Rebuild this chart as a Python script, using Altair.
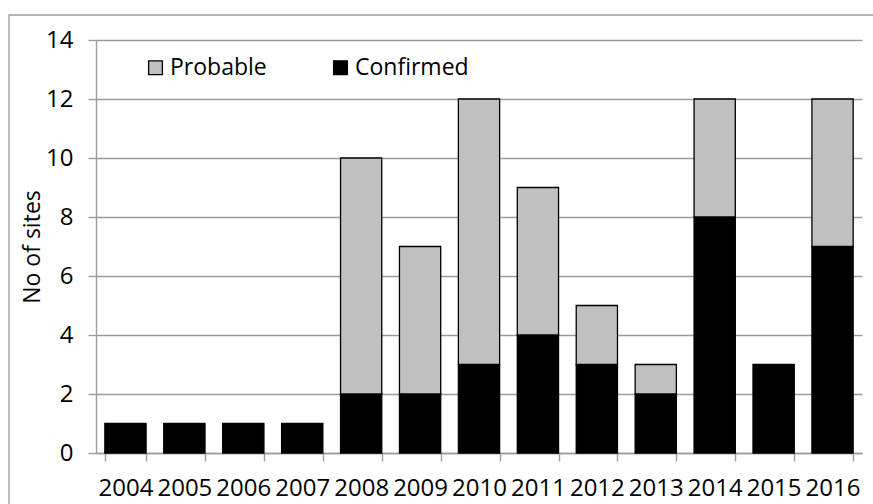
import altair as alt
import pandas as pd

years = ["2004", "2005", "2006", "2007", "2008", "2009", "2010",
         "2011", "2012", "2013", "2014", "2015", "2016"]
confirmed = [1, 1, 1, 1, 2, 2, 3, 4, 3, 2, 8, 3, 7]
probable = [0, 0, 0, 0, 8, 5, 9, 5, 2, 1, 4, 0, 5]

series = ["Probable", "Confirmed"]
series_colors = ["#c0c0c0", "#000000"]

rows = []
for y, c, p in zip(years, confirmed, probable):
    if c:
        rows.append({"year": y, "status": "Confirmed", "sites": c, "stack_rank": 0})
    if p:
        rows.append({"year": y, "status": "Probable", "sites": p, "stack_rank": 1})
df = pd.DataFrame(rows)

FONT = "Open Sans"
GRID = "#9c9c9c"

bars = alt.Chart(df).mark_bar(stroke="black", strokeWidth=1.3).encode(
    x=alt.X("year:N", sort=years, title=None,
            scale=alt.Scale(paddingInner=0.3, paddingOuter=0.15),
            axis=alt.Axis(labelAngle=0, tickBand="extent", grid=False,
                          tickSize=8, labelPadding=15)),
    y=alt.Y("sites:Q", title="No of sites",
            scale=alt.Scale(domain=[0, 14], nice=False),
            axis=alt.Axis(values=list(range(0, 15, 2)), tickSize=8,
                          labelPadding=15, titlePadding=1)),
    color=alt.Color("status:N", title=None,
                    scale=alt.Scale(domain=series, range=series_colors),
                    legend=alt.Legend(orient="none", direction="horizontal",
                                      legendX=48, legendY=16,
                                      symbolType="square", symbolSize=190,
                                      symbolStrokeColor="black",
                                      symbolStrokeWidth=1.3,
                                      symbolOpacity=1,
                                      labelFontSize=23, labelFont=FONT,
                                      labelColor="black", labelOffset=3,
                                      columnPadding=62, padding=0)),
    order=alt.Order("stack_rank:Q", sort="ascending"),
)

# outer chart frame
frame = alt.Chart(alt.Data(values=[{}])).mark_rect(
    fill=None, stroke=GRID, strokeWidth=1.3
).encode(
    x=alt.value(-87), x2=alt.value(900),
    y=alt.value(-25), y2=alt.value(600),
)

chart = alt.layer(frame, bars).properties(
    width=766, height=413,
    autosize=alt.AutoSizeParams(type="none"),
    padding={"left": 96, "top": 40, "right": 11, "bottom": 51},
).configure_view(stroke=None).configure_axis(
    labelFont=FONT, labelFontSize=24, labelColor="black",
    titleFont=FONT, titleFontSize=23, titleColor="black", titleFontWeight="normal",
    domainColor=GRID, domainWidth=1.4, tickColor=GRID, tickWidth=1.4,
    gridColor=GRID, gridWidth=1.4,
)

chart.save("out.html", embed_options={"renderer": "svg", "actions": False})
